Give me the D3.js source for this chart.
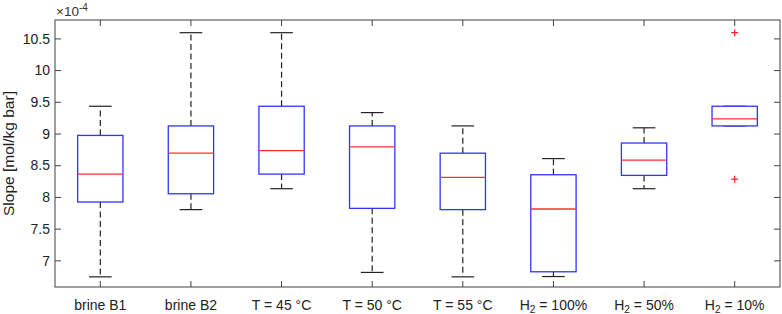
<!DOCTYPE html>
<html>
<head>
<meta charset="utf-8">
<script src="https://cdn.jsdelivr.net/npm/d3@7"></script>
<style>
  body { margin: 0; background: #fff; }
  svg { display: block; font-family: "Liberation Sans", Arial, Helvetica, sans-serif; }
</style>
</head>
<body>
<div id="container"></div>
<script>
// box plot values (x 1e-4 mol/kg bar)
const categories = ["brine B1", "brine B2", "T = 45 °C", "T = 50 °C", "T = 55 °C", "H_2 = 100%", "H_2 = 50%", "H_2 = 10%"]
const lowerWhisker = [6.74, 7.80, 8.13, 6.81, 6.74, 6.745, 8.13, 9.12]
const q1 = [7.92, 8.05, 8.36, 7.82, 7.80, 6.82, 8.34, 9.12]
const medians = [8.36, 8.69, 8.73, 8.79, 8.31, 7.81, 8.58, 9.23]
const q3 = [8.97, 9.12, 9.43, 9.12, 8.69, 8.35, 8.85, 9.43]
const upperWhisker = [9.43, 10.59, 10.59, 9.33, 9.12, 8.605, 9.09, 9.43]
const outliers = [[], [], [], [], [], [], [], [10.59, 8.28]]
const yTicks = [7, 7.5, 8, 8.5, 9, 9.5, 10, 10.5]
const yTickLabels = ["7", "7.5", "8", "8.5", "9", "9.5", "10", "10.5"]

const w = 782
const h = 314
const plotL = 55, plotR = 780, plotT = 20, plotB = 287
const axisColor = "#404040"

const data = categories.map((c, i) => ({
    cat: c, lo: lowerWhisker[i], q1: q1[i], med: medians[i], q3: q3[i], hi: upperWhisker[i], out: outliers[i]
}))

const x = d3.scaleBand().domain(categories).range([plotL, plotR]).padding(0)
const y = d3.scaleLinear().domain([6.58, 10.79]).range([plotB, plotT])
const cx = d => x(d.cat) + x.bandwidth() / 2
const boxW = x.bandwidth() * 0.5
const capW = boxW * 0.5

const svg = d3.select("#container").append("svg")
    .attr("width", w)
    .attr("height", h)

// frame
svg.append("rect")
    .attr("x", plotL).attr("y", plotT)
    .attr("width", plotR - plotL).attr("height", plotB - plotT)
    .attr("fill", "none").attr("stroke", axisColor).attr("stroke-width", 1)

// axes (ticks pointing inward)
const yAxis = svg.append("g")
    .attr("transform", `translate(${plotL},0)`)
    .call(d3.axisLeft(y).tickValues(yTicks).tickFormat((d, i) => yTickLabels[i]).tickSizeInner(-6).tickSizeOuter(0).tickPadding(5))
svg.append("g")
    .attr("transform", `translate(${plotR},0)`)
    .call(d3.axisRight(y).tickValues(yTicks).tickFormat("").tickSizeInner(-6).tickSizeOuter(0))
const xAxis = svg.append("g")
    .attr("transform", `translate(0,${plotB})`)
    .call(d3.axisBottom(x).tickSizeInner(-6).tickSizeOuter(0).tickPadding(13))
svg.append("g")
    .attr("transform", `translate(0,${plotT})`)
    .call(d3.axisTop(x).tickFormat("").tickSizeInner(-6).tickSizeOuter(0))

svg.selectAll(".domain").remove()
svg.selectAll(".tick line").attr("stroke", axisColor)
svg.selectAll(".tick text").attr("fill", "#222").style("font-size", "14px")
yAxis.selectAll(".tick text").attr("dy", "0.34em")

// subscript labels for H_2
xAxis.selectAll(".tick text").each(function (d) {
    const t = d3.select(this)
    if (d.startsWith("H_2")) {
        t.text("")
        t.append("tspan").text("H")
        t.append("tspan").text("2").attr("dy", "3.5").style("font-size", "10px")
        t.append("tspan").text(d.slice(3)).attr("dy", "-3.5")
    }
})

// y label
svg.append("text")
    .attr("transform", `translate(14,${(plotT + plotB) / 2}) rotate(-90)`)
    .attr("text-anchor", "middle")
    .style("font-size", "15.5px")
    .attr("fill", "#222")
    .text("Slope [mol/kg bar]")

// exponent
const ex = svg.append("text").attr("x", plotL + 1).attr("y", 16).attr("fill", "#333").style("font-size", "13.5px")
ex.append("tspan").text("×10")
ex.append("tspan").text("-4").attr("dy", "-5").style("font-size", "10px")

const boxes = svg.append("g").selectAll("g").data(data).enter().append("g")

// whiskers
boxes.append("line")
    .attr("x1", cx).attr("x2", cx)
    .attr("y1", d => y(d.q3)).attr("y2", d => y(d.hi))
    .attr("stroke", "#222").attr("stroke-width", 1.2).attr("stroke-dasharray", "6,3.5")
boxes.append("line")
    .attr("x1", cx).attr("x2", cx)
    .attr("y1", d => y(d.q1)).attr("y2", d => y(d.lo))
    .attr("stroke", "#222").attr("stroke-width", 1.2).attr("stroke-dasharray", "6,3.5")
boxes.append("line")
    .attr("x1", d => cx(d) - capW / 2).attr("x2", d => cx(d) + capW / 2)
    .attr("y1", d => y(d.hi)).attr("y2", d => y(d.hi))
    .attr("stroke", "#222").attr("stroke-width", 1.2)
boxes.append("line")
    .attr("x1", d => cx(d) - capW / 2).attr("x2", d => cx(d) + capW / 2)
    .attr("y1", d => y(d.lo)).attr("y2", d => y(d.lo))
    .attr("stroke", "#222").attr("stroke-width", 1.2)

// box
boxes.append("rect")
    .attr("x", d => cx(d) - boxW / 2)
    .attr("y", d => y(d.q3))
    .attr("width", boxW)
    .attr("height", d => y(d.q1) - y(d.q3))
    .attr("fill", "white").attr("stroke", "#3333ff").attr("stroke-width", 1.3)

// median
boxes.append("line")
    .attr("x1", d => cx(d) - boxW / 2).attr("x2", d => cx(d) + boxW / 2)
    .attr("y1", d => y(d.med)).attr("y2", d => y(d.med))
    .attr("stroke", "#ff3030").attr("stroke-width", 1.3)

// outliers
boxes.selectAll("path.out").data(d => d.out.map(v => ({ x: cx(d), v: v }))).enter()
    .append("path")
    .attr("class", "out")
    .attr("d", p => `M${p.x - 3.5},${y(p.v)}h7M${p.x},${y(p.v) - 3.5}v7`)
    .attr("stroke", "#ff2020").attr("stroke-width", 1.2)
</script>
</body>
</html>
